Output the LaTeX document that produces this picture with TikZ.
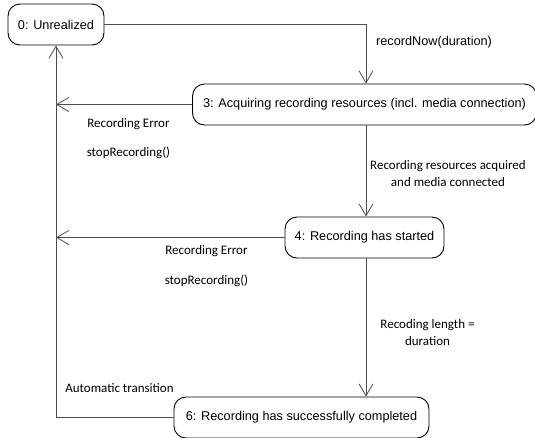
\documentclass[tikz,border=0pt]{standalone}
\usepackage{fontspec}
\setmainfont{Liberation Sans}
\newfontfamily\calfont{Carlito}
\usetikzlibrary{arrows.meta}
\tikzset{
  state/.style={draw=black, line width=0.9pt, rounded corners=12pt, minimum height=41pt, inner sep=0pt, font=\fontsize{12.7}{15}\selectfont},
  arr/.style={draw=black!70, line width=0.9pt, -{Straight Barb[length=12pt,width=14pt,line width=0.8pt]}},
  conn/.style={draw=black!70, line width=0.9pt},
  lbl/.style={font=\calfont\fontsize{13}{17}\selectfont, align=center, inner sep=0pt},
  lbla/.style={font=\fontsize{12.7}{15}\selectfont, inner sep=0pt}
}
\begin{document}
\begin{tikzpicture}[x=1pt,y=-1pt]
\useasboundingbox (0,0) rectangle (535,437);
\node[state, minimum width=96pt] (n0) at (56,24.5) {0: Unrealized};
\node[state, minimum width=344pt] (n3) at (364.5,104.5) {3: Acquiring recording resources (incl. media connection)};
\node[state, minimum width=159pt] (n4) at (364.5,237.5) {4: Recording has started};
\node[state, minimum width=255pt] (n6) at (301.5,417.5) {6: Recording has successfully completed};
\coordinate (vx) at (366,0);
\draw[arr] (n0.east) -| (n3.north -| vx);
\draw[arr] (n3.south -| vx) -- (n4.north -| vx);
\draw[arr] (n4.south -| vx) -- (n6.north -| vx);
\draw[arr] (n3.west) -- (n3.west -| n0.south);
\draw[arr] (n4.west) -- (n4.west -| n0.south);
\draw[arr] (n6.west) -| (n0.south);
\node[lbla, anchor=west] (l1) at (376,42) {recordNow(duration)};
\node[lbl] (l2) at (128.5,124) {Recording Error};
\node[lbl] (l3) at (128.5,153) {stopRecording()};
\node[lbl] (l4) at (206.5,251) {Recording Error};
\node[lbl] (l5) at (206.5,281) {stopRecording()};
\node[lbl] (l6) at (448,173.5) {Recording resources acquired\\and media connected};
\node[lbl] (l7) at (427.5,333) {Recoding length =\\duration};
\node[lbl] (l8) at (119.5,388) {Automatic transition};
\end{tikzpicture}
\end{document}
